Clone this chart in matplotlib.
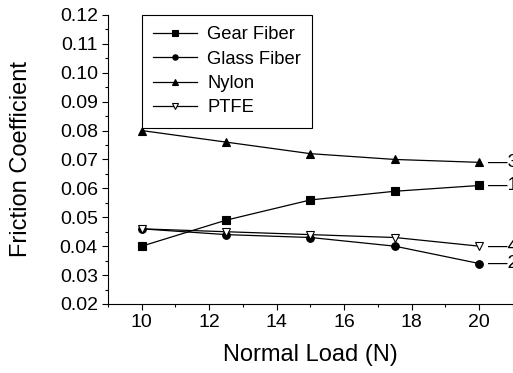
import numpy as np
import matplotlib
matplotlib.use('Agg')
import matplotlib.pyplot as plt
from matplotlib.ticker import MultipleLocator, FormatStrFormatter

plt.rcParams['font.family'] = ['Liberation Sans', 'DejaVu Sans']

load = [10, 12.5, 15, 17.5, 20]
gear_fiber = [0.040, 0.049, 0.056, 0.059, 0.061]
glass_fiber = [0.046, 0.044, 0.043, 0.040, 0.034]
nylon = [0.080, 0.076, 0.072, 0.070, 0.069]
ptfe = [0.046, 0.045, 0.044, 0.043, 0.040]

series = [
    ('Gear Fiber', gear_fiber, 's', 'k', '1'),
    ('Glass Fiber', glass_fiber, 'o', 'k', '2'),
    ('Nylon', nylon, '^', 'k', '3'),
    ('PTFE', ptfe, 'v', 'white', '4'),
]

fig = plt.figure(figsize=(5.13, 3.73), dpi=100)
ax = fig.add_axes([0.2105, 0.185, 0.7895, 0.775])

for name, vals, mk, fc, tag in series:
    ax.plot(load, vals, color='k', lw=0.9, marker=mk, markersize=5.5,
            markerfacecolor=fc, markeredgecolor='k', markeredgewidth=0.8,
            label=name)
    # curve number next to the last point (cut off by the figure edge)
    ax.annotate('\u2014' + tag, xy=(load[-1], vals[-1]), xytext=(6, 0),
                textcoords='offset points', va='center', ha='left',
                fontsize=14, annotation_clip=False)

ax.set_xlim(9, 21)
ax.set_ylim(0.02, 0.12)
ax.xaxis.set_major_locator(MultipleLocator(2))
ax.xaxis.set_minor_locator(MultipleLocator(1))
ax.yaxis.set_major_locator(MultipleLocator(0.01))
ax.yaxis.set_minor_locator(MultipleLocator(0.005))
ax.yaxis.set_major_formatter(FormatStrFormatter('%.2f'))

for s in ['top', 'right']:
    ax.spines[s].set_visible(False)
ax.tick_params(which='major', direction='out', length=4.3, width=0.8,
               labelsize=14, pad=3)
ax.tick_params(which='minor', direction='out', length=2.3, width=0.8)

ax.set_xlabel('Normal Load (N)', fontsize=17, labelpad=9)
ax.set_ylabel('Friction Coefficient', fontsize=17, labelpad=20)

leg = ax.legend(loc='upper left', bbox_to_anchor=(0.083, 1.0), fontsize=13.2,
                frameon=True, fancybox=False, edgecolor='k', framealpha=1,
                handlelength=2.4, handletextpad=0.55, borderpad=0.62,
                labelspacing=0.4, borderaxespad=0, markerscale=0.7)
leg.get_frame().set_linewidth(0.8)

fig.savefig('out.png', dpi=100)
